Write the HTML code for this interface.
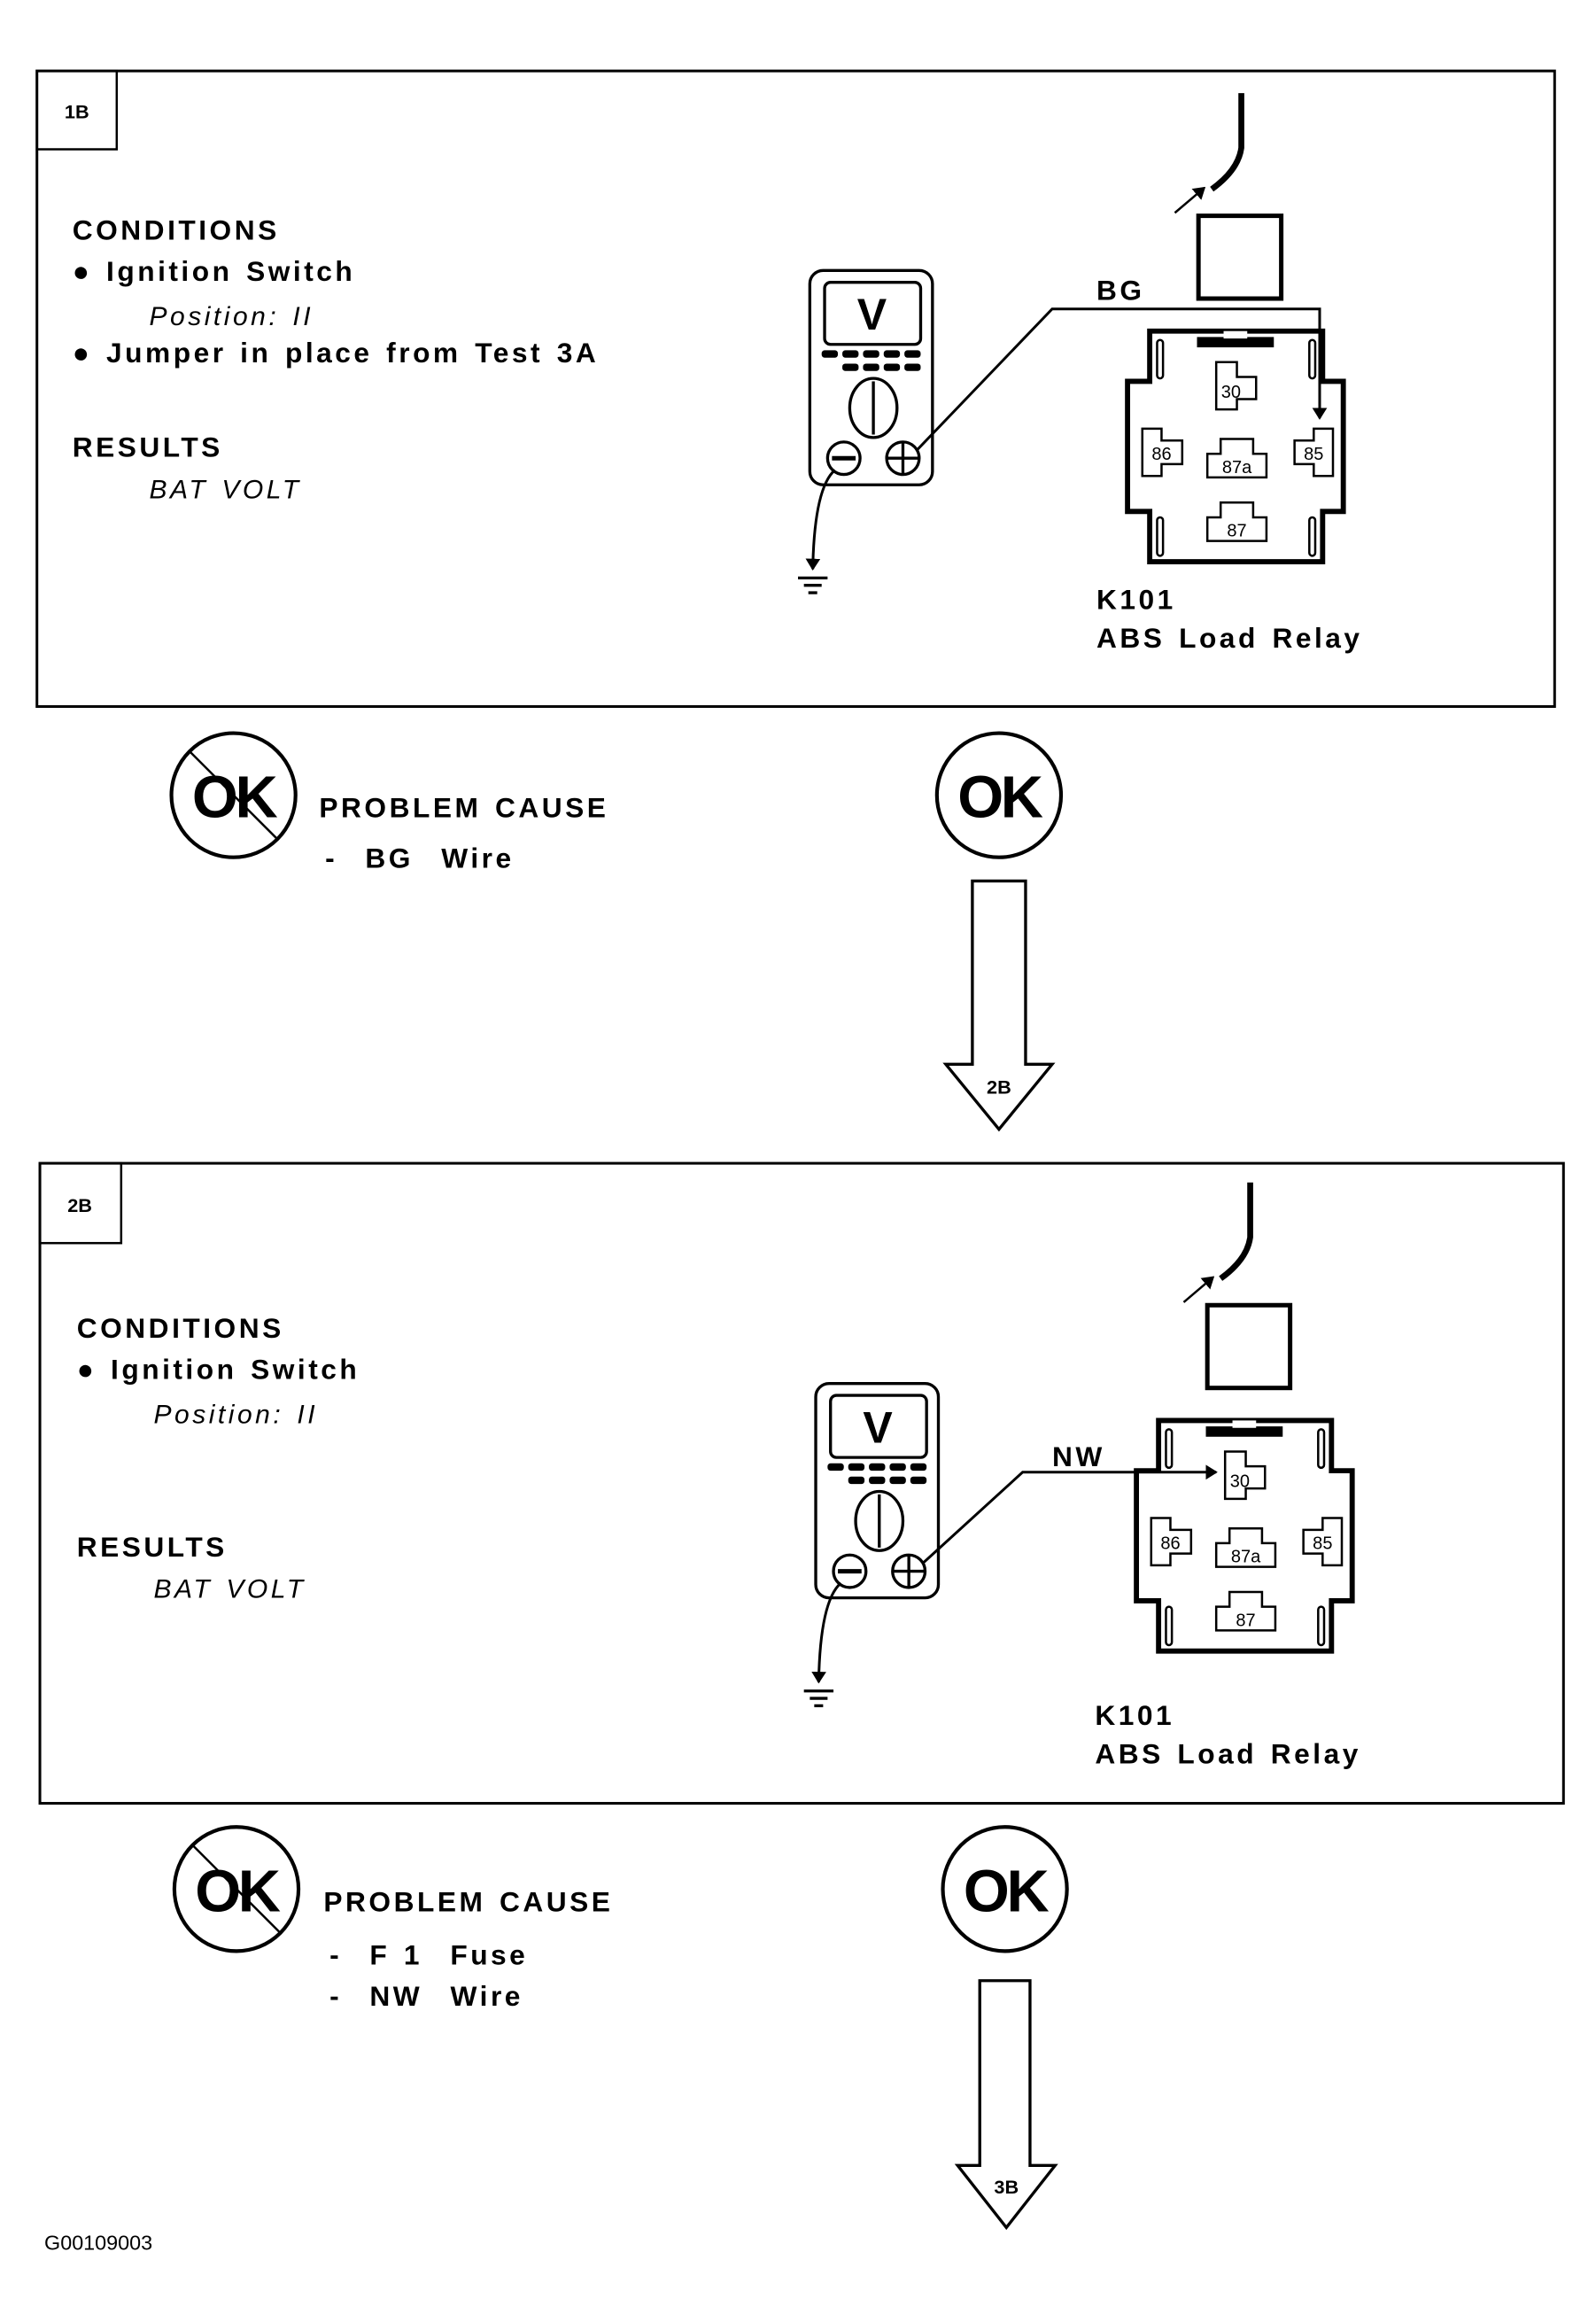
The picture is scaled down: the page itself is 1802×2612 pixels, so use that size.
<!DOCTYPE html>
<html><head><meta charset="utf-8"><style>
html,body{margin:0;padding:0;background:#fff;}
svg{display:block;}
text{font-family:"Liberation Sans",Arial,sans-serif;fill:#000;}
.b{font-weight:bold;}
.i{font-style:italic;}
.w{letter-spacing:2.1px;word-spacing:2px;}
</style></head><body>
<svg width="1802" height="2612" viewBox="0 0 1080 1565.5" preserveAspectRatio="none" xmlns="http://www.w3.org/2000/svg">
<defs>
<marker id="ah" markerWidth="8" markerHeight="10" refX="7" refY="5" orient="auto" markerUnits="userSpaceOnUse"><path d="M0,0 L8,5 L0,10 Z" fill="#000"/></marker>
</defs>

<!-- ===== Box 1 ===== -->
<rect x="25" y="48" width="1027" height="430" fill="none" stroke="#000" stroke-width="1.8"/>
<rect x="25" y="48" width="54" height="53" fill="none" stroke="#000" stroke-width="1.5"/>
<text x="52" y="80" class="b" font-size="13" text-anchor="middle">1B</text>
<text x="49" y="162" class="b w" font-size="19">CONDITIONS</text>
<text x="49" y="190" class="b w" font-size="19">● Ignition Switch</text>
<text x="101" y="220" class="i w" font-size="18">Position: II</text>
<text x="49" y="245" class="b w" font-size="19">● Jumper in place from Test 3A</text>
<text x="49" y="309" class="b w" font-size="19">RESULTS</text>
<text x="101" y="337" class="i w" font-size="18">BAT VOLT</text>

<!-- meter 1 -->
<g fill="none" stroke="#000" stroke-width="2">
<rect x="548" y="183" width="83" height="145" rx="9"/>
<rect x="558" y="191" width="65" height="42" rx="4"/>
<ellipse cx="591" cy="276" rx="16" ry="20"/>
<line x1="591" y1="258" x2="591" y2="294"/>
<circle cx="571" cy="310" r="11"/><line x1="563" y1="310" x2="579" y2="310" stroke-width="3"/>
<circle cx="611" cy="310" r="11"/><line x1="600" y1="310" x2="622" y2="310"/><line x1="611" y1="299" x2="611" y2="321"/>
<path d="M620,305 L712,209 L893,209 L893,283" marker-end="url(#ah)" stroke-width="1.8"/>
<path d="M565,318 Q551,330 550,385" marker-end="url(#ah)" stroke-width="1.8"/>
<line x1="540" y1="391" x2="560" y2="391"/><line x1="544" y1="396" x2="556" y2="396"/><line x1="547" y1="401" x2="553" y2="401"/>
</g>
<text x="590" y="223" class="b" font-size="30" text-anchor="middle">V</text>
<g fill="#000">
<rect x="556" y="237" width="11" height="5" rx="2"/><rect x="570" y="237" width="11" height="5" rx="2"/><rect x="584" y="237" width="11" height="5" rx="2"/><rect x="598" y="237" width="11" height="5" rx="2"/><rect x="612" y="237" width="11" height="5" rx="2"/>
<rect x="570" y="246" width="11" height="5" rx="2"/><rect x="584" y="246" width="11" height="5" rx="2"/><rect x="598" y="246" width="11" height="5" rx="2"/><rect x="612" y="246" width="11" height="5" rx="2"/>
</g>
<text x="742" y="203" class="b w" font-size="19">BG</text>

<!-- relay 1 -->
<g>
<path d="M840,63 L840,100 Q838,115 820,128" fill="none" stroke="#000" stroke-width="4"/>
<line x1="795" y1="144" x2="815" y2="127" stroke="#000" stroke-width="1.5" marker-end="url(#ah)"/>
<rect x="811" y="146" width="56" height="56" fill="none" stroke="#000" stroke-width="3"/>
<path d="M778,224 H895 V258 H909 V346 H895 V380 H778 V346 H763 V258 H778 Z" fill="none" stroke="#000" stroke-width="3.5"/>
<g fill="none" stroke="#000" stroke-width="1.5">
<rect x="783" y="230" width="4" height="26" rx="2"/><rect x="886" y="230" width="4" height="26" rx="2"/>
<rect x="783" y="350" width="4" height="26" rx="2"/><rect x="886" y="350" width="4" height="26" rx="2"/>
<polygon points="823,245 837,245 837,255 850,255 850,270 837,270 837,277 823,277"/>
<polygon points="773,290 786,290 786,298 800,298 800,314 786,314 786,322 773,322"/>
<polygon points="902,290 889,290 889,298 876,298 876,314 889,314 889,322 902,322"/>
<polygon points="826,297 848,297 848,307 857,307 857,323 817,323 817,307 826,307"/>
<polygon points="826,340 848,340 848,350 857,350 857,366 817,366 817,350 826,350"/>
</g>
<rect x="810" y="228" width="52" height="7" fill="#000"/>
<rect x="828" y="224" width="16" height="5" fill="#fff"/>
<text x="833" y="269" font-size="12" text-anchor="middle">30</text>
<text x="786" y="311" font-size="12" text-anchor="middle">86</text>
<text x="889" y="311" font-size="12" text-anchor="middle">85</text>
<text x="837" y="320" font-size="12" text-anchor="middle">87a</text>
<text x="837" y="363" font-size="12" text-anchor="middle">87</text>
</g>
<text x="742" y="412" class="b w" font-size="19">K101</text>
<text x="742" y="438" class="b w" font-size="19">ABS Load Relay</text>

<!-- result row 1 -->
<circle cx="158" cy="538" r="42" fill="none" stroke="#000" stroke-width="2.5"/>
<text x="158" y="553" class="b" font-size="40" text-anchor="middle" letter-spacing="-2">OK</text>
<line x1="128" y1="508" x2="188" y2="568" stroke="#000" stroke-width="1.5"/>
<text x="216" y="553" class="b w" font-size="19">PROBLEM CAUSE</text>
<text x="220" y="587" class="b w" font-size="19">- &#160;BG &#160;Wire</text>
<circle cx="676" cy="538" r="42" fill="none" stroke="#000" stroke-width="2.5"/>
<text x="676" y="553" class="b" font-size="40" text-anchor="middle" letter-spacing="-2">OK</text>
<path d="M658,596 H694 V720 H712 L676,764 L640,720 H658 Z" fill="none" stroke="#000" stroke-width="2"/>
<text x="676" y="740" class="b" font-size="13" text-anchor="middle">2B</text>

<!-- ===== Box 2 ===== -->
<rect x="27" y="787" width="1031" height="433" fill="none" stroke="#000" stroke-width="1.8"/>
<rect x="27" y="787" width="55" height="54" fill="none" stroke="#000" stroke-width="1.5"/>
<text x="54" y="820" class="b" font-size="13" text-anchor="middle">2B</text>
<text x="52" y="905" class="b w" font-size="19">CONDITIONS</text>
<text x="52" y="933" class="b w" font-size="19">● Ignition Switch</text>
<text x="104" y="963" class="i w" font-size="18">Position: II</text>
<text x="52" y="1053" class="b w" font-size="19">RESULTS</text>
<text x="104" y="1081" class="i w" font-size="18">BAT VOLT</text>

<g transform="translate(4,753)">
<g fill="none" stroke="#000" stroke-width="2">
<rect x="548" y="183" width="83" height="145" rx="9"/>
<rect x="558" y="191" width="65" height="42" rx="4"/>
<ellipse cx="591" cy="276" rx="16" ry="20"/>
<line x1="591" y1="258" x2="591" y2="294"/>
<circle cx="571" cy="310" r="11"/><line x1="563" y1="310" x2="579" y2="310" stroke-width="3"/>
<circle cx="611" cy="310" r="11"/><line x1="600" y1="310" x2="622" y2="310"/><line x1="611" y1="299" x2="611" y2="321"/>
<path d="M620,305 L688,243 L819,243" marker-end="url(#ah)" stroke-width="1.8"/>
<path d="M565,318 Q551,330 550,385" marker-end="url(#ah)" stroke-width="1.8"/>
<line x1="540" y1="391" x2="560" y2="391"/><line x1="544" y1="396" x2="556" y2="396"/><line x1="547" y1="401" x2="553" y2="401"/>
</g>
<text x="590" y="223" class="b" font-size="30" text-anchor="middle">V</text>
<g fill="#000">
<rect x="556" y="237" width="11" height="5" rx="2"/><rect x="570" y="237" width="11" height="5" rx="2"/><rect x="584" y="237" width="11" height="5" rx="2"/><rect x="598" y="237" width="11" height="5" rx="2"/><rect x="612" y="237" width="11" height="5" rx="2"/>
<rect x="570" y="246" width="11" height="5" rx="2"/><rect x="584" y="246" width="11" height="5" rx="2"/><rect x="598" y="246" width="11" height="5" rx="2"/><rect x="612" y="246" width="11" height="5" rx="2"/>
</g>
</g>
<text x="712" y="992" class="b w" font-size="19">NW</text>

<g transform="translate(6,737)">
<path d="M840,63 L840,100 Q838,115 820,128" fill="none" stroke="#000" stroke-width="4"/>
<line x1="795" y1="144" x2="815" y2="127" stroke="#000" stroke-width="1.5" marker-end="url(#ah)"/>
<rect x="811" y="146" width="56" height="56" fill="none" stroke="#000" stroke-width="3"/>
<path d="M778,224 H895 V258 H909 V346 H895 V380 H778 V346 H763 V258 H778 Z" fill="none" stroke="#000" stroke-width="3.5"/>
<g fill="none" stroke="#000" stroke-width="1.5">
<rect x="783" y="230" width="4" height="26" rx="2"/><rect x="886" y="230" width="4" height="26" rx="2"/>
<rect x="783" y="350" width="4" height="26" rx="2"/><rect x="886" y="350" width="4" height="26" rx="2"/>
<polygon points="823,245 837,245 837,255 850,255 850,270 837,270 837,277 823,277"/>
<polygon points="773,290 786,290 786,298 800,298 800,314 786,314 786,322 773,322"/>
<polygon points="902,290 889,290 889,298 876,298 876,314 889,314 889,322 902,322"/>
<polygon points="826,297 848,297 848,307 857,307 857,323 817,323 817,307 826,307"/>
<polygon points="826,340 848,340 848,350 857,350 857,366 817,366 817,350 826,350"/>
</g>
<rect x="810" y="228" width="52" height="7" fill="#000"/>
<rect x="828" y="224" width="16" height="5" fill="#fff"/>
<text x="833" y="269" font-size="12" text-anchor="middle">30</text>
<text x="786" y="311" font-size="12" text-anchor="middle">86</text>
<text x="889" y="311" font-size="12" text-anchor="middle">85</text>
<text x="837" y="320" font-size="12" text-anchor="middle">87a</text>
<text x="837" y="363" font-size="12" text-anchor="middle">87</text>
</g>
<text x="741" y="1167" class="b w" font-size="19">K101</text>
<text x="741" y="1193" class="b w" font-size="19">ABS Load Relay</text>

<circle cx="160" cy="1278" r="42" fill="none" stroke="#000" stroke-width="2.5"/>
<text x="160" y="1293" class="b" font-size="40" text-anchor="middle" letter-spacing="-2">OK</text>
<line x1="130" y1="1248" x2="190" y2="1308" stroke="#000" stroke-width="1.5"/>
<text x="219" y="1293" class="b w" font-size="19">PROBLEM CAUSE</text>
<text x="223" y="1329" class="b w" font-size="19">- &#160;F 1 &#160;Fuse</text>
<text x="223" y="1357" class="b w" font-size="19">- &#160;NW &#160;Wire</text>
<circle cx="680" cy="1278" r="42" fill="none" stroke="#000" stroke-width="2.5"/>
<text x="680" y="1293" class="b" font-size="40" text-anchor="middle" letter-spacing="-2">OK</text>
<path d="M663,1340 H697 V1465 H714 L681,1507 L648,1465 H663 Z" fill="none" stroke="#000" stroke-width="2"/>
<text x="681" y="1484" class="b" font-size="13" text-anchor="middle">3B</text>

<text x="30" y="1522" font-size="14">G00109003</text>
</svg>
</body></html>
